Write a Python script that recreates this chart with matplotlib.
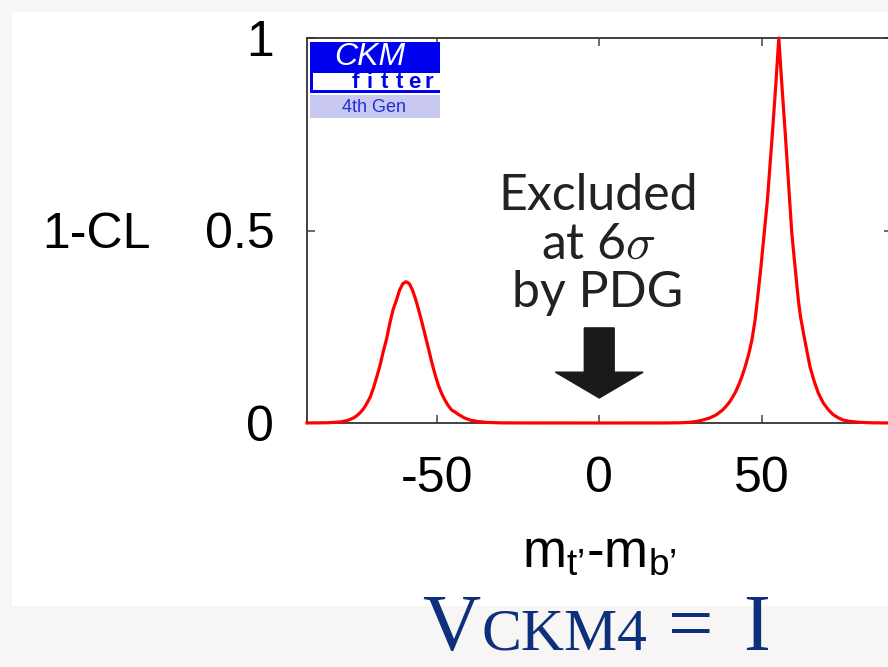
import matplotlib
matplotlib.use("Agg")
import matplotlib.pyplot as plt
from matplotlib.patches import Rectangle

plt.rcParams['mathtext.fontset'] = 'custom'
plt.rcParams['mathtext.rm'] = 'Liberation Sans'
plt.rcParams['mathtext.it'] = 'Liberation Sans:italic'
plt.rcParams['mathtext.bf'] = 'Liberation Sans:bold'

# ---- data: 1-CL versus m_t' - m_b' ----
delta_m = [-90, -86, -83.5, -79.5, -77.5, -75.5, -74.5, -73.5, -72.5, -71.5, -70.5,
           -69.5, -68.5, -67.5, -66.5, -65.5, -64.5, -63.5, -62.5, -61.5, -60.5,
           -59.5, -58.5, -57.5, -56.5, -55.5, -54.5, -53.5, -52.5, -51.5, -50.5,
           -49.5, -48.5, -47.5, -46.5, -45.5, -44.5, -43.5, -41.5, -39.5, -37.5,
           -34.5, -30, -20, 0, 20, 25, 28, 30, 32, 34, 36, 38, 39, 40, 41, 42, 43,
           44, 45, 46, 47, 48, 48.7, 49.8, 50.8, 51.8, 52.5, 53.3, 54.3, 55.3,
           56.3, 57.3, 58.0, 58.5, 59.3, 60.3, 61.3, 62.0, 62.9, 64.0, 64.9, 66.2,
           67.5, 69, 70.6, 72, 73.5, 75, 77, 80, 84, 90]
one_minus_cl = [0.0001, 0.0004, 0.0007, 0.003, 0.0065, 0.014, 0.020, 0.028, 0.038, 0.052, 0.068,
                0.092, 0.120, 0.150, 0.186, 0.218, 0.259, 0.294, 0.318, 0.345, 0.362,
                0.367, 0.362, 0.345, 0.320, 0.290, 0.258, 0.224, 0.190, 0.155, 0.124,
                0.097, 0.076, 0.059, 0.045, 0.034, 0.029, 0.023, 0.013, 0.007, 0.004,
                0.0015, 0.0003, 0.0001, 0.0, 0.0001, 0.0006, 0.002, 0.004, 0.008, 0.013,
                0.021, 0.034, 0.043, 0.053, 0.066, 0.081, 0.100, 0.122, 0.148, 0.178,
                0.215, 0.268, 0.320, 0.406, 0.493, 0.580, 0.660, 0.750, 0.870, 1.0,
                0.870, 0.750, 0.660, 0.595, 0.493, 0.406, 0.320, 0.275, 0.233, 0.185,
                0.146, 0.108, 0.077, 0.052, 0.034, 0.022, 0.014, 0.008, 0.0045, 0.0018,
                0.0005, 0.0]

x_ticks = [-50, 0, 50]
x_tick_labels = ['-50', '0', '50']
y_ticks = [0, 0.5, 1]
y_tick_labels = ['0', '0.5', '1']

# annotation arrow (data units)
arrow_x = 0
arrow_tail = 0.247
arrow_tip = 0.065

W, H = 888, 667
fig = plt.figure(figsize=(W / 100, H / 100), dpi=100)
fig.patch.set_facecolor('#f7f6f4')
fig.add_artist(Rectangle((12 / W, 1 - 606 / H), 1 - 12 / W, (606 - 12) / H,
                         transform=fig.transFigure, facecolor='white',
                         edgecolor='none', zorder=-5))

ax = fig.add_axes([307 / W, 1 - 423 / H, 584.5 / W, 385 / H])
ax.set_facecolor('white')
ax.plot(delta_m, one_minus_cl, color='#ff0000', lw=2.3, zorder=4, clip_on=False,
        solid_joinstyle='round')
ax.set_xlim(-90, 90)
ax.set_ylim(0, 1)

ax.set_xticks(x_ticks)
ax.set_xticklabels(x_tick_labels, family='Liberation Sans', fontsize=36)
ax.set_yticks(y_ticks)
ax.set_yticklabels(y_tick_labels, family='Liberation Sans', fontsize=36)
ax.tick_params(direction='in', top=True, right=True, length=6, width=1.1,
               color='#444444')
ax.tick_params(axis='x', pad=24)
ax.tick_params(axis='y', pad=23.5)
for s in ax.spines.values():
    s.set_color('#333333')
    s.set_linewidth(1.3)

ax.set_xlabel('m$_{\\mathrm{t\u2019}}$-m$_{\\mathrm{b\u2019}}$', family='Liberation Sans',
              fontsize=38, va='baseline')
ax.xaxis.set_label_coords(0.5, -0.374)
ax.set_ylabel('1-CL', family='Liberation Sans', fontsize=36, rotation=0,
              ha='left', va='center_baseline')
ax.yaxis.set_label_coords(-0.4534, 0.5)

# arrow
ax.arrow(arrow_x, arrow_tail, 0, arrow_tip - arrow_tail, width=9.2, head_width=27,
         head_length=0.067, length_includes_head=True, color='#1a1a1a', zorder=5)

# annotation text
ann_lines = ['Excluded', 'at 6$\\sigma$', 'by PDG']
ann_base_px = [210, 259, 307]
for t, yb in zip(ann_lines, ann_base_px):
    fig.text(598 / W, 1 - yb / H, t, family='Lato', fontsize=36, color='#222222',
             ha='center', va='baseline', math_fontfamily='cm')

# CKMfitter logo (axes fraction)
def axx(px):
    return (px - 307) / 584.5

def axy(py):
    return (423 - py) / 385

blue = '#0000f0'
ax.add_patch(Rectangle((axx(310), axy(93.3)), axx(440) - axx(310), axy(41.7) - axy(93.3),
                       transform=ax.transAxes, facecolor=blue, edgecolor='none', zorder=6))
ax.add_patch(Rectangle((axx(313.3), axy(90)), axx(440) - axx(313.3), axy(72.7) - axy(90),
                       transform=ax.transAxes, facecolor='white', edgecolor='none', zorder=7))
ax.add_patch(Rectangle((axx(310), axy(118)), axx(440) - axx(310), axy(95) - axy(118),
                       transform=ax.transAxes, facecolor='#c8c8f0', edgecolor='none', zorder=6))
ax.text(axx(370), axy(65), 'CKM', transform=ax.transAxes, family='Liberation Sans',
        style='italic', fontsize=23, color='white', ha='center', va='baseline', zorder=8)
for i, ch in enumerate('fitter'):
    ax.text(axx(355 + i * 14.8), axy(88.5), ch, transform=ax.transAxes,
            family='Liberation Sans', weight='bold', fontsize=16, color=blue,
            ha='center', va='baseline', zorder=8)
ax.text(axx(374), axy(112.5), '4th Gen', transform=ax.transAxes, family='Liberation Sans',
        fontsize=13, color='#1f2fd8', ha='center', va='baseline', zorder=8)

# V_CKM4 = I
navy = '#0d2f7c'
base_y = 1 - 650 / H
fig.text(422 / W, base_y, 'V', family='Liberation Serif', fontsize=58,
         color=navy, ha='left', va='baseline')
fig.text(481 / W, base_y, 'CKM4', family='Liberation Serif', fontsize=43,
         color=navy, ha='left', va='baseline')
fig.text(668 / W, base_y, '=', family='Liberation Serif', fontsize=58,
         color=navy, ha='left', va='baseline')
fig.text(743 / W, base_y, 'I', family='Liberation Serif', fontsize=58,
         color=navy, ha='left', va='baseline')

fig.savefig('out.png', dpi=100, facecolor=fig.get_facecolor())
